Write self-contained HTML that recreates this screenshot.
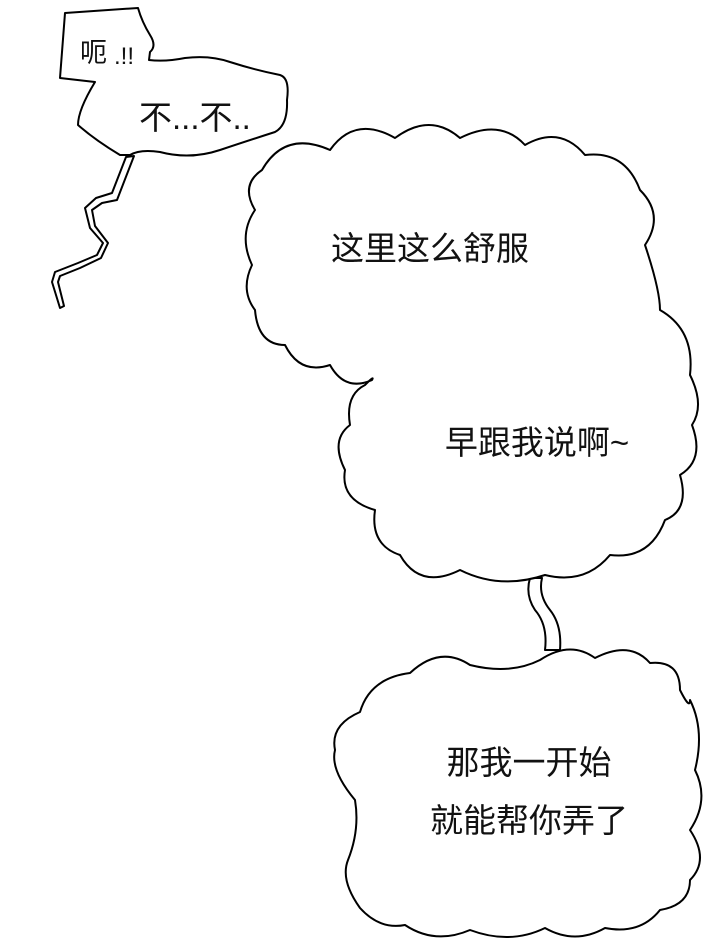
<!DOCTYPE html>
<html><head><meta charset="utf-8"><style>
html,body{margin:0;padding:0;background:#fff;}
svg{display:block;}
text{font-family:"Liberation Sans","Noto Sans CJK SC",sans-serif;fill:#111;}
</style></head><body>
<svg width="720" height="951" viewBox="0 0 720 951" xmlns="http://www.w3.org/2000/svg">
<g fill="#fff" stroke="#000" stroke-width="2" stroke-linejoin="round">
<path d="M126,157 L112,193 L96,198 L85,208 L90,228 L103,243 L97,255 L78,263 L55,272 L52,282 L60,308 L64,306 L58,282 L60,276 L80,268 L101,258 L108,243 L95,226 L92,210 L102,203 L117,200 L134,156 Z"/>
<path d="M65,13 L138,8 Q142,22 150,35 Q157,46 150,52 L149,60 Q165,62 185,58 Q210,55 230,62 Q255,70 280,75 Q290,78 287,100 Q288,125 275,132 Q250,140 220,150 Q190,160 160,152 Q140,149 130,155 L120,155 Q95,140 78,125 Q78,110 95,82 L60,78 Z"/>
<path d="M530,578 Q525,595 535,610 Q548,625 545,650 L560,650 Q562,625 550,610 Q538,595 542,578 Z"/>
<path d="M262,170 Q285,130 330,150 Q355,115 395,138 Q430,112 460,138 Q500,118 525,145 Q560,125 585,155 Q625,150 640,190 Q665,215 645,245 Q660,290 660,310 Q695,330 690,375 Q705,405 692,425 Q705,460 680,475 Q690,510 665,520 Q650,560 610,555 Q585,585 545,575 Q500,590 460,570 Q420,590 400,555 Q370,545 375,510 Q340,500 345,470 Q330,440 350,425 Q345,395 365,385 Q375,375 372,380 Q345,392 330,365 Q300,375 285,345 Q258,345 255,310 Q240,290 252,265 Q238,235 255,210 Q240,185 262,170 Z"/>
<path d="M360,712 Q370,678 410,673 Q440,645 470,665 Q510,675 540,660 Q570,640 595,658 Q630,640 650,663 Q680,660 680,690 Q690,710 690,700 Q705,730 695,770 Q710,800 690,830 Q710,860 690,880 Q690,905 660,910 Q640,935 605,928 Q575,945 545,928 Q510,945 470,930 Q435,945 405,925 Q380,930 360,908 Q340,880 348,860 Q360,830 355,800 Q330,770 335,750 Q330,725 360,712 Z"/>
</g>
<text x="80" y="62" font-size="27">呃</text>
<text x="114" y="64" font-size="24">.!!</text>
<text x="139" y="129" font-size="33">不...不..</text>
<text x="430" y="260" font-size="33" text-anchor="middle">这里这么舒服</text>
<text x="537" y="454" font-size="33" text-anchor="middle">早跟我说啊~</text>
<text x="529" y="774" font-size="33" text-anchor="middle">那我一开始</text>
<text x="529" y="832" font-size="33" text-anchor="middle">就能帮你弄了</text>
</svg>
</body></html>
